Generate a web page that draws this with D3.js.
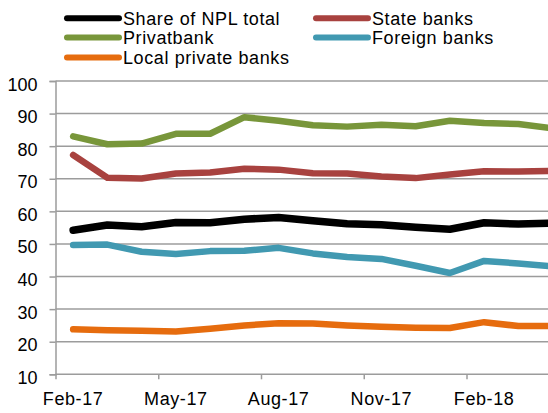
<!DOCTYPE html>
<html>
<head>
<meta charset="utf-8">
<script src="https://cdn.jsdelivr.net/npm/d3@7"></script>
<style>
  html, body { margin: 0; padding: 0; background: #fff; }
  svg { display: block; }
  text { font-family: "Liberation Sans", Arial, sans-serif; fill: #000; }
</style>
</head>
<body>
<svg id="chart" width="548" height="413"></svg>
<script>
// ---- data ----
const months = ["Feb-17","Mar-17","Apr-17","May-17","Jun-17","Jul-17","Aug-17","Sep-17","Oct-17","Nov-17","Dec-17","Jan-18","Feb-18","Mar-18","Apr-18"];
const shareNPLTotal = [54.2, 55.8, 55.3, 56.6, 56.5, 57.6, 58.1, 57.1, 56.2, 55.9, 55.1, 54.5, 56.5, 56.1, 56.4];
const stateBanks    = [77.3, 70.3, 70.1, 71.6, 71.9, 73.1, 72.8, 71.7, 71.6, 70.7, 70.2, 71.3, 72.3, 72.2, 72.4];
const privatbank    = [83.0, 80.6, 80.8, 83.8, 83.8, 88.9, 87.8, 86.4, 86.0, 86.6, 86.1, 87.8, 87.1, 86.8, 85.5];
const foreignBanks  = [49.7, 49.8, 47.6, 46.9, 47.8, 47.9, 48.8, 47.1, 46.0, 45.4, 43.3, 41.1, 44.8, 44.0, 43.1];
const localPrivate  = [23.8, 23.5, 23.4, 23.1, 24.0, 25.0, 25.7, 25.6, 25.0, 24.6, 24.3, 24.2, 26.0, 24.8, 24.8];
const yTicks = [10, 20, 30, 40, 50, 60, 70, 80, 90, 100];
const xTickLabels = ["Feb-17", "May-17", "Aug-17", "Nov-17", "Feb-18"];
const seriesNames = ["Share of NPL total", "State banks", "Privatbank", "Foreign banks", "Local private banks"];
const seriesColors = ["#000000", "#A8423F", "#78963A", "#4199B1", "#E66C0E"];

const seriesValues = [shareNPLTotal, stateBanks, privatbank, foreignBanks, localPrivate];
const series = seriesNames.map((name, i) => ({ name, color: seriesColors[i], values: seriesValues[i] }));

// ---- layout ----
const svg = d3.select("#chart");
const plotLeft = 55.5, plotTop = 81, plotBottom = 374.3, step = 34.25, bandStart = 56;

const x = d3.scaleBand().domain(months).range([bandStart, bandStart + step * months.length]).padding(0);
const y = d3.scaleLinear().domain([10, 100]).range([plotBottom, plotTop]);
const plotRight = bandStart + step * months.length;

// gridlines
svg.append("g").selectAll("line").data(yTicks.filter(t => t > 10)).join("line")
  .attr("x1", plotLeft).attr("x2", plotRight)
  .attr("y1", d => y(d)).attr("y2", d => y(d))
  .attr("stroke", "#9c9c9c").attr("stroke-width", 1.5);

// y axis
const yAxis = d3.axisLeft(y).tickValues(yTicks).tickSize(6).tickPadding(12).tickFormat(d3.format("d"));
const gy = svg.append("g").attr("transform", `translate(${plotLeft},0)`).call(yAxis);
gy.select(".domain").attr("stroke", "#9c9c9c").attr("stroke-width", 1.5);
gy.selectAll(".tick line").attr("stroke", "#9c9c9c").attr("stroke-width", 1.5);
gy.attr("font-family", null).attr("font-size", null);
gy.selectAll(".tick text").attr("font-size", 18).attr("dy", null).attr("y", 9)
  .attr("x", -18).attr("fill", "#000");

// x axis
const tickBoundaries = months.filter((m, i) => i % 3 === 0);
const xAxisLine = svg.append("g");
xAxisLine.append("line").attr("x1", plotLeft).attr("x2", plotRight).attr("y1", plotBottom).attr("y2", plotBottom)
  .attr("stroke", "#9c9c9c").attr("stroke-width", 1.5);
xAxisLine.selectAll("line.tk").data(tickBoundaries).join("line").attr("class", "tk")
  .attr("x1", d => x(d)).attr("x2", d => x(d)).attr("y1", plotBottom).attr("y2", plotBottom + 5)
  .attr("stroke", "#9c9c9c").attr("stroke-width", 1.5);
xAxisLine.selectAll("text").data(xTickLabels).join("text")
  .attr("x", d => x(d) + x.bandwidth() / 2).attr("y", plotBottom + 30.7)
  .attr("text-anchor", "middle").attr("font-size", 18).attr("letter-spacing", 0.6)
  .text(d => d);

// lines
const line = d3.line()
  .x((d, i) => x(months[i]) + x.bandwidth() / 2)
  .y(d => y(d));
svg.append("g").selectAll("path").data(series).join("path")
  .attr("d", d => line(d.values))
  .attr("fill", "none")
  .attr("stroke", d => d.color)
  .attr("stroke-width", (d, i) => i === 0 ? 7.5 : 6.5)
  .attr("stroke-linejoin", "round")
  .attr("stroke-linecap", "round");

// legend
const legendPos = [
  { lx: 67, ly: 18.3 }, { lx: 316, ly: 18.3 },
  { lx: 67, ly: 37.6 }, { lx: 316, ly: 37.6 },
  { lx: 67, ly: 57.4 }
];
const lg = svg.append("g").selectAll("g").data(series).join("g")
  .attr("transform", (d, i) => `translate(${legendPos[i].lx},${legendPos[i].ly})`);
lg.append("line").attr("x1", 0).attr("x2", 52).attr("y1", 0).attr("y2", 0)
  .attr("stroke", d => d.color).attr("stroke-width", 6).attr("stroke-linecap", "round");
lg.append("text").attr("x", 56).attr("y", 6.3).attr("font-size", 18).attr("letter-spacing", 0.6)
  .text(d => d.name);
</script>
</body>
</html>
